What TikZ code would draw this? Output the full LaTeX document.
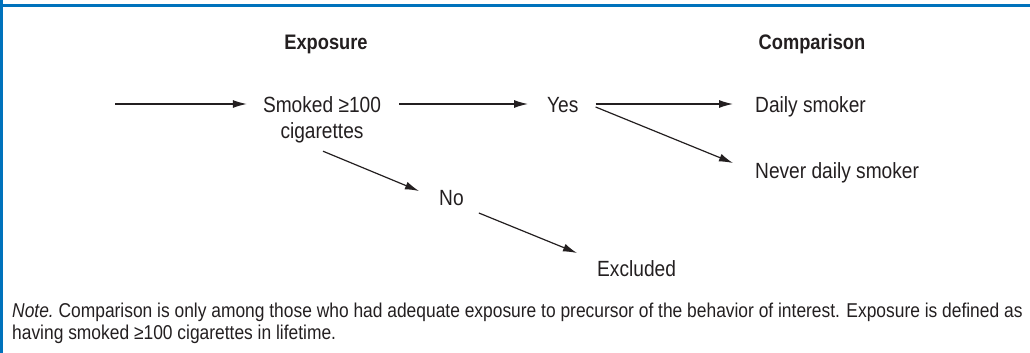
\documentclass[tikz,border=0pt]{standalone}
\usepackage{fontspec}
\setmainfont{Liberation Sans}[FakeStretch=0.87]
\usetikzlibrary{arrows.meta}
\definecolor{frameblue}{RGB}{0,114,188}
\definecolor{ink}{RGB}{35,31,32}
\begin{document}
\begin{tikzpicture}[x=1pt,y=-1pt,
  lbl/.style={font=\fontsize{22}{26}\selectfont, text=ink, inner sep=0pt, text height=16pt, text depth=0pt},
  head/.style={font=\bfseries\fontsize{21}{26}\selectfont, text=ink, inner sep=0pt, text height=16pt, text depth=0pt},
  arr/.style={draw=ink, line width=1.2pt, -{Latex[length=14pt,width=8pt]}},
  notetext/.style={font=\fontsize{20}{22}\selectfont, text=ink, inner sep=0pt, align=left}]
\useasboundingbox (0,0) rectangle (1030,353);
% frame
\draw[frameblue, line width=2.5pt] (0,5.5) -- (1030,5.5);
\draw[frameblue, line width=2.5pt] (1.5,0) -- (1.5,353);
% headings
\node[head] (expo) at (326,42) {Exposure};
\node[head] (comp) at (812,42) {Comparison};
% nodes
\coordinate (start) at (115,104);
\node[lbl] (smoked) at (322,104) {Smoked ≥100};
\node[lbl] (cig) at (322,130) {cigarettes};
\node[lbl, anchor=west] (yes) at (547,104) {Yes};
\node[lbl, anchor=west] (daily) at (755,104) {Daily smoker};
\node[lbl, anchor=west] (never) at (755,170) {Never daily smoker};
\node[lbl, anchor=west] (no) at (439,197) {No};
\node[lbl, anchor=west] (excl) at (597,268) {Excluded};
% arrows
\draw[arr] (start) -- ([xshift=-16pt]start -| smoked.west);
\draw[arr] ([xshift=18pt]smoked.east) -- ([xshift=-19pt]yes.west);
\draw[arr] ([xshift=17pt]yes.east) -- ([xshift=-22pt]daily.west);
\draw[arr] ([xshift=17pt,yshift=-3pt]yes.east) -- ([xshift=-22pt,yshift=7pt]never.west);
\draw[arr] ([xshift=1pt,yshift=-13pt]cig.south) -- ([xshift=-20pt,yshift=6pt]no.west);
\draw[arr] ([xshift=15pt,yshift=-16pt]no.east) -- ([xshift=-20pt,yshift=15pt]excl.west);
% note
\node[notetext, anchor=north west] (note) at (12,303) {\textit{Note.}\ Comparison is only among those who had adequate exposure to precursor of the behavior of interest. Exposure is defined as\\having smoked ≥100 cigarettes in lifetime.};
\end{tikzpicture}
\end{document}
